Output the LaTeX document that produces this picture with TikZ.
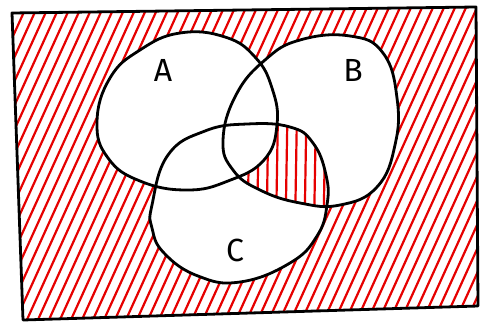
\documentclass[tikz,border=0pt]{standalone}
\usepackage{fontspec}
\setsansfont{Fira Sans}
\definecolor{hred}{RGB}{230,0,0}
\tikzset{
  hatch/.style={draw=hred, line width=2.2pt, line cap=round},
  outline/.style={draw=black, line width=2.8pt, line join=round},
  lbl/.style={font=\sffamily\fontsize{32}{32}\selectfont, inner sep=0pt}
}
\begin{document}
\begin{tikzpicture}[x=1pt,y=-1pt]
\useasboundingbox (0,0) rectangle (480,322);
\def\rectP{(12,13) -- (476,7) -- (478,306) -- (23,320) -- cycle}
\def\shapeA{plot[smooth cycle, tension=0.75] coordinates {(97,122) (110,78) (140,50) (180,33) (225,37) (255,57) (272,88) (277,125) (264,160) (228,181) (187,190) (140,181) (108,158)}}
\def\shapeB{plot[smooth cycle, tension=0.75] coordinates {(223,140) (236,95) (265,60) (300,40) (350,36) (383,53) (397,98) (395,145) (377,187) (340,205) (300,203) (260,190) (233,170)}}
\def\shapeC{plot[smooth cycle, tension=0.75] coordinates {(152,205) (168,155) (205,131) (247,124) (290,127) (313,143) (326,175) (327,205) (317,236) (290,263) (240,282) (198,276) (164,253) (152,228)}}
% outside hatching
\begin{scope}
  \clip \rectP;
  \foreach \i in {-200,-189,...,500} {
    \draw[hatch] (\i,335) -- ++(157,-345);
  }
\end{scope}
\fill[white] \shapeA;
\fill[white] \shapeB;
\fill[white] \shapeC;
% B and C minus A
\begin{scope}
  \clip \shapeB;
  \clip \shapeC;
  \foreach \i in {200,209.5,...,340} {
    \draw[hatch] (\i,230) -- (\i+2,110);
  }
  \fill[white] \shapeA;
\end{scope}
\draw[outline] \rectP;
\draw[outline] \shapeA;
\draw[outline] \shapeB;
\draw[outline] \shapeC;
\node[lbl] (la) at (163,70) {A};
\node[lbl] (lb) at (353,70) {B};
\node[lbl] (lc) at (235,250) {C};
\end{tikzpicture}
\end{document}
